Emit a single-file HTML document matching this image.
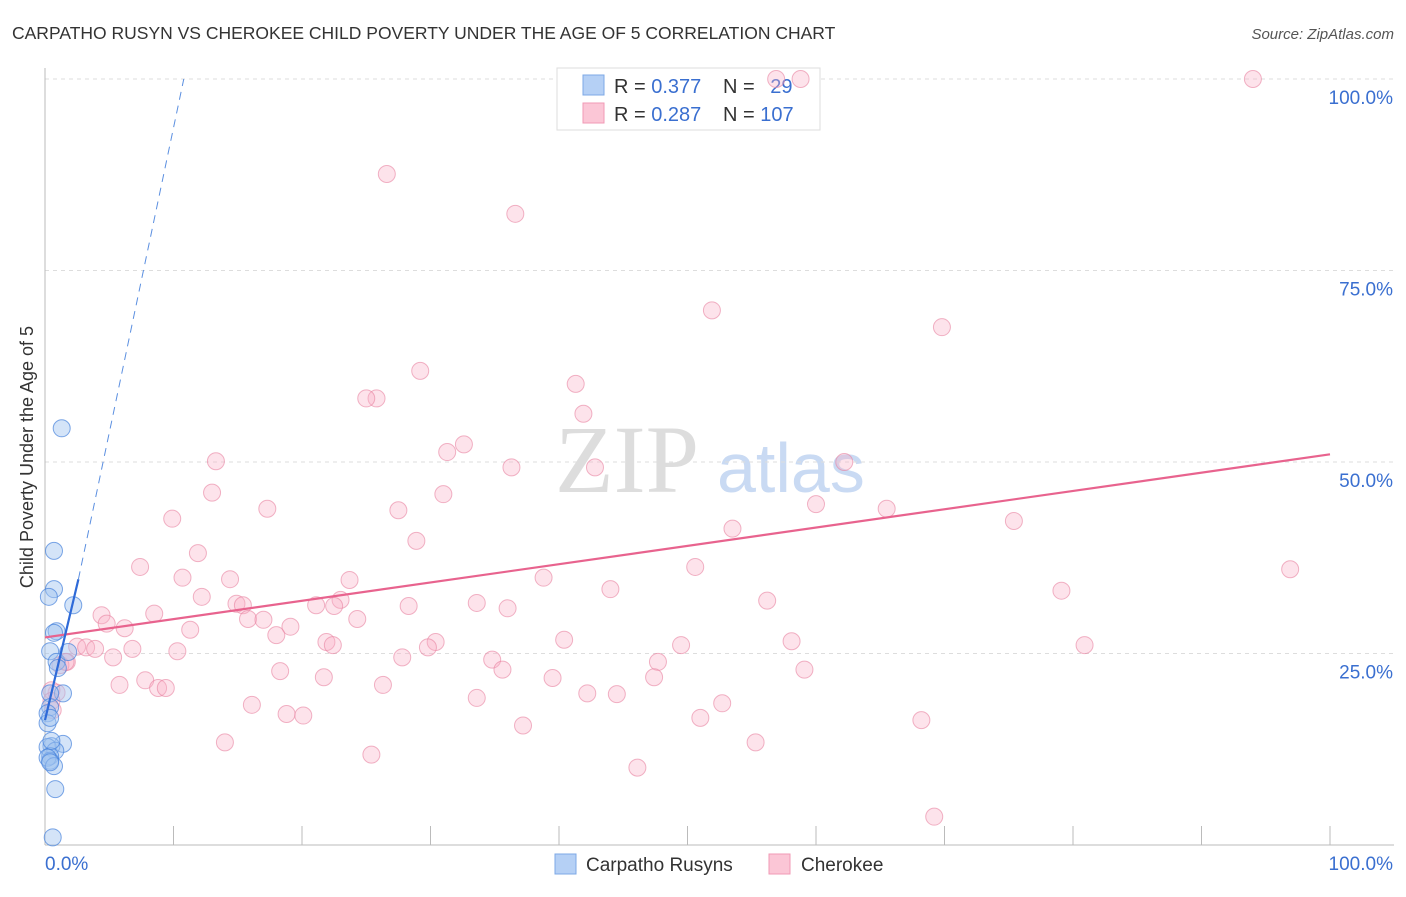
<!DOCTYPE html>
<html><head><meta charset="utf-8"><style>
body{margin:0;background:#fff;font-family:"Liberation Sans",sans-serif}
svg text{font-family:"Liberation Sans",sans-serif}
</style></head><body>
<svg width="1406" height="892" id="chart">
<text x="12" y="39" font-size="17.5" fill="#333">CARPATHO RUSYN VS CHEROKEE CHILD POVERTY UNDER THE AGE OF 5 CORRELATION CHART</text>
<text x="1394" y="39" font-size="15" fill="#555" font-style="italic" text-anchor="end">Source: ZipAtlas.com</text>
<text x="33" y="457" font-size="18" fill="#333" text-anchor="middle" transform="rotate(-90 33 457)">Child Poverty Under the Age of 5</text>
<text x="555" y="492" font-size="96" fill="#ddd" font-family="Liberation Serif" style="font-family:'Liberation Serif',serif">ZIP</text>
<text x="717" y="492" font-size="70" fill="#c9daf3">atlas</text>
<g id="grid"></g>
<g>
<rect x="557" y="68" width="263" height="62" fill="#fff" stroke="#ddd"/>
<rect x="583" y="75" width="21" height="20" fill="#b5d0f5" stroke="#7da8e6"/>
<rect x="583" y="103" width="21" height="20" fill="#fbc6d6" stroke="#f09ab5"/>
<text x="614" y="93" font-size="20" fill="#333">R = <tspan fill="#3a6fd0">0.377</tspan></text>
<text x="723" y="93" font-size="20" fill="#333">N = <tspan fill="#3a6fd0" dx="10">29</tspan></text>
<text x="614" y="121" font-size="20" fill="#333">R = <tspan fill="#3a6fd0">0.287</tspan></text>
<text x="723" y="121" font-size="20" fill="#333">N = <tspan fill="#3a6fd0">107</tspan></text>
</g>
<g id="pts"></g><g id="lines"></g>
<g>
<rect x="555" y="854" width="21" height="20" fill="#b5d0f5" stroke="#7da8e6"/>
<text x="586" y="871" font-size="19" fill="#333">Carpatho Rusyns</text>
<rect x="769" y="854" width="21" height="20" fill="#fbc6d6" stroke="#f09ab5"/>
<text x="801" y="871" font-size="19" fill="#333">Cherokee</text>
</g>
</svg>
<script>
const yTicks=[25,50,75,100];
const yTickLabels=["25.0%","50.0%","75.0%","100.0%"];
const xTicks=[0,10,20,30,40,50,60,70,80,90,100];
const blueX=[1.3,0.7,0.7,0.3,2.2,0.9,0.7,0.4,0.9,1.8,1.4,0.4,0.4,0.2,0.2,1.4,0.5,0.2,0.8,0.4,0.4,0.2,0.7,0.4,0.8,0.6,0.4,0.5,1.0];
const blueY=[54.4,38.4,33.4,32.4,31.3,27.9,27.7,25.3,23.9,25.2,19.8,19.8,18.0,17.2,15.9,13.2,12.9,12.8,12.3,11.6,11.0,11.4,10.3,10.8,7.3,1.0,16.6,13.6,23.1];
const pinkX=[58.8,56.9,94.0,26.6,36.6,51.9,69.8,29.2,41.3,25.8,25.0,41.9,32.6,31.3,13.3,62.2,36.3,42.8,13.0,31.0,9.9,17.3,27.5,60.0,65.5,53.5,75.4,28.9,11.9,7.4,50.6,96.9,10.7,14.4,23.7,38.8,44.0,79.1,12.2,14.9,15.4,21.1,23.0,22.5,28.3,33.6,8.5,4.4,36.0,56.2,15.8,17.0,24.3,4.8,6.2,19.1,11.3,18.0,21.9,22.4,30.4,29.8,40.4,49.5,58.1,80.9,2.5,3.2,3.9,6.8,10.3,1.7,5.3,27.8,34.8,47.7,35.6,18.3,59.1,47.4,21.7,39.5,7.8,5.8,8.8,9.4,26.3,0.9,0.5,0.5,0.6,33.6,42.2,44.5,16.1,52.7,18.8,20.1,51.0,68.2,37.2,14.0,55.3,25.4,46.1,69.2,1.2,1.6];
const pinkY=[100,100,100,87.6,82.4,69.8,67.6,61.9,60.2,58.3,58.3,56.3,52.3,51.3,50.1,50.0,49.3,49.3,46.0,45.8,42.6,43.9,43.7,44.5,43.9,41.3,42.3,39.7,38.1,36.3,36.3,36.0,34.9,34.7,34.6,34.9,33.4,33.2,32.4,31.5,31.3,31.3,32.0,31.2,31.2,31.6,30.2,30.0,30.9,31.9,29.5,29.4,29.5,28.9,28.3,28.5,28.1,27.4,26.5,26.1,26.5,25.8,26.8,26.1,26.6,26.1,25.9,25.8,25.6,25.6,25.3,23.9,24.5,24.5,24.2,23.9,22.9,22.7,22.9,21.9,21.9,21.8,21.5,20.9,20.5,20.5,20.9,19.9,20.2,18.8,17.6,19.2,19.8,19.7,18.3,18.5,17.1,16.9,16.6,16.3,15.6,13.4,13.4,11.8,10.1,3.7,23.5,23.9];
const blueTrend=[0,16.3,2.6,34.7];
const blueDash=[2.6,34.7,10.8,100];
const pinkTrend=[0,27.1,100,51.0];
const X0=45,X1=1330,Y0=845,Y100=79;
const sx=v=>X0+(X1-X0)*v/100, sy=v=>Y0-(Y0-Y100)*v/100;
const NS="http://www.w3.org/2000/svg";
function mk(t,a,p){const e=document.createElementNS(NS,t);for(const k in a)e.setAttribute(k,a[k]);p.appendChild(e);return e;}
const g=document.getElementById('grid');
yTicks.forEach((t,i)=>{
 const l=mk('line',{x1:X0,x2:1394,y1:sy(t),y2:sy(t),stroke:'#ddd','stroke-dasharray':'4,4'},g);
 
 
 const tx=mk('text',{x:1393,y:sy(t)+25,'font-size':19,fill:'#3a6fd0','text-anchor':'end'},g);tx.textContent=yTickLabels[i];
 
 
});
const ax=mk('line',{x1:X0,x2:X0,y1:68,y2:Y0,stroke:'#bbb'},g);


const bx=mk('line',{x1:X0,x2:1394,y1:Y0,y2:Y0,stroke:'#bbb'},g);


xTicks.forEach(t=>{const l=mk('line',{x1:sx(t),x2:sx(t),y1:826,y2:Y0,stroke:'#bbb'},g);
 
 });
const xl=mk('text',{x:45,y:870,'font-size':19,fill:'#3a6fd0'},g);xl.textContent='0.0%';


const xr=mk('text',{x:1393,y:870,'font-size':19,fill:'#3a6fd0','text-anchor':'end'},g);xr.textContent='100.0%';


const p=document.getElementById('pts');
pinkX.forEach((v,i)=>{const c=mk('circle',{cx:sx(v),cy:sy(pinkY[i]),r:8.5,fill:'rgba(248,175,198,0.35)',stroke:'rgba(232,130,160,0.6)','stroke-width':1},p);
 
 });
blueX.forEach((v,i)=>{const c=mk('circle',{cx:sx(v),cy:sy(blueY[i]),r:8.5,fill:'rgba(160,195,240,0.45)',stroke:'rgba(70,130,220,0.7)','stroke-width':1},p);
 
 });
const L=document.getElementById('lines');
const l1=mk('line',{x1:sx(pinkTrend[0]),y1:sy(pinkTrend[1]),x2:sx(pinkTrend[2]),y2:sy(pinkTrend[3]),stroke:'#e8638e','stroke-width':2.2},L);


const l2=mk('line',{x1:sx(blueTrend[0]),y1:sy(blueTrend[1]),x2:sx(blueTrend[2]),y2:sy(blueTrend[3]),stroke:'#2e6ad8','stroke-width':2.2},L);


const l3=mk('line',{x1:sx(blueDash[0]),y1:sy(blueDash[1]),x2:sx(blueDash[2]),y2:sy(blueDash[3]),stroke:'#5b8fe0','stroke-width':1,'stroke-dasharray':'8,6'},L);


</script>
</body></html>
